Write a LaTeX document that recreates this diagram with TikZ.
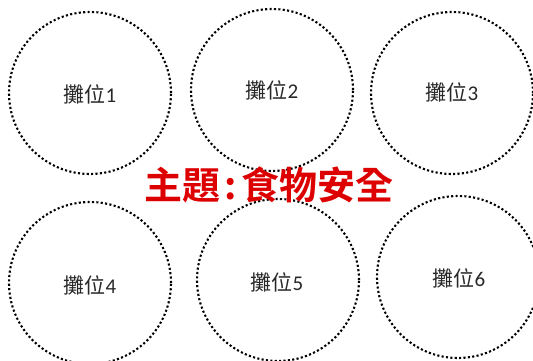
\documentclass[tikz,border=0pt]{standalone}
\usepackage{fontspec}
\newfontfamily\cjk{Noto Sans CJK TC}
\newfontfamily\cjkb{Noto Sans CJK TC Bold}
\newfontfamily\digits{Carlito}
\definecolor{titlered}{RGB}{220,0,0}
\definecolor{labelgray}{RGB}{40,40,40}
\begin{document}
\begin{tikzpicture}[x=1pt,y=-1pt,
  booth/.style={circle,draw=black,line width=2.1pt,dash pattern=on 2.1pt off 2.3pt,minimum size=162pt,inner sep=0pt},
  boothlabel/.style={font=\cjk\fontsize{21}{21}\selectfont,text=labelgray,inner sep=0pt},
  titletext/.style={font=\cjkb\fontsize{38}{38}\selectfont,text=titlered,inner sep=0pt}]
\useasboundingbox (0,0) rectangle (533,361);
\node[booth] (c1) at (90,93) {};
\node[booth] (c2) at (272,90) {};
\node[booth] (c3) at (452,93) {};
\node[booth] (c4) at (90,283) {};
\node[booth] (c5) at (278,280) {};
\node[booth] (c6) at (458,277) {};
\node[boothlabel] (l1) at (90,94) {攤位{\digits 1}};
\node[boothlabel] (l2) at (272,90) {攤位{\digits 2}};
\node[boothlabel] (l3) at (452,92) {攤位{\digits 3}};
\node[boothlabel] (l4) at (90,285) {攤位{\digits 4}};
\node[boothlabel] (l5) at (277,282) {攤位{\digits 5}};
\node[boothlabel] (l6) at (459,278) {攤位{\digits 6}};
\node[titletext] (t) at (269,185) {主題{\hspace{4pt}:\hspace{4pt}}食物安全};
\end{tikzpicture}
\end{document}
